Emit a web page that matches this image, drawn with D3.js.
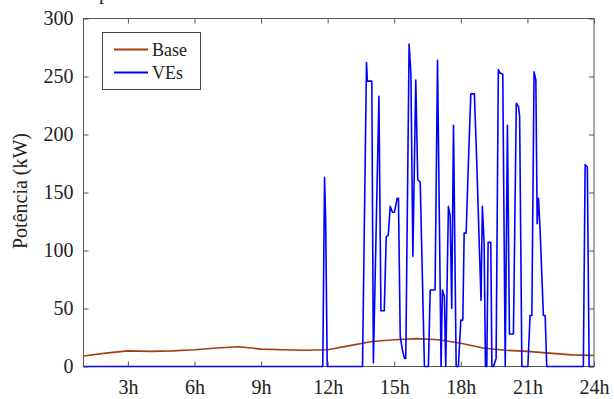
<!DOCTYPE html>
<html><head><meta charset="utf-8">
<script src="https://cdn.jsdelivr.net/npm/d3@7"></script>
<style>body{margin:0;background:#fff}svg{display:block}</style>
</head><body>
<svg id="c" width="614" height="399"></svg>
<script>
const yTicks = [0, 50, 100, 150, 200, 250, 300];
const xTicks = [3, 6, 9, 12, 15, 18, 21, 24];
const xTickLabels = ["3h", "6h", "9h", "12h", "15h", "18h", "21h", "24h"];
const seriesNames = ["Base", "VEs"];
const baseHours = [1, 2, 3, 4, 5, 6, 7, 8, 9, 10, 11, 12, 13, 14, 15, 16, 17, 18, 19, 20, 21, 22, 23, 24];
const baseValues = [9, 11.5, 13.5, 13, 13.5, 14.5, 16, 17, 15, 14.5, 14, 14.5, 18, 21.5, 23, 24, 23, 20, 16, 14, 13, 11.5, 10, 9.5];
const veHours = [1, 11.78, 11.86, 11.91, 11.98, 13.57, 13.75, 13.79, 13.99, 14.06, 14.31, 14.40, 14.55, 14.64, 14.73, 14.82, 14.92, 15.01, 15.13, 15.19, 15.27, 15.37, 15.46, 15.52, 15.67, 15.75, 15.84, 15.97, 16.06, 16.17, 16.36, 16.54, 16.62, 16.84, 16.95, 17.11, 17.17, 17.26, 17.32, 17.44, 17.52, 17.59, 17.67, 17.79, 17.89, 18.0, 18.09, 18.15, 18.24, 18.34, 18.45, 18.61, 18.72, 18.82, 18.91, 18.97, 19.05, 19.11, 19.17, 19.23, 19.35, 19.40, 19.47, 19.59, 19.69, 19.77, 19.89, 20.0, 20.10, 20.19, 20.37, 20.50, 20.60, 20.65, 20.75, 21.02, 21.12, 21.20, 21.30, 21.38, 21.44, 21.50, 21.57, 21.72, 21.80, 21.87, 23.52, 23.60, 23.70, 23.78, 24];
const veValues = [0, 0, 163, 126, 0, 0, 262, 246, 246, 3, 233, 48, 48, 112, 113, 138, 133, 133, 145, 145, 26, 14, 7, 7, 278, 253, 95, 247, 161, 159, 0, 0, 66, 66, 264, 0, 66, 60, 0, 138, 130, 50, 208, 0, 0, 40, 40, 115, 115, 175, 235, 235, 175, 112, 57, 138, 106, 0, 0, 107, 107, 0, 0, 7, 256, 253, 252, 0, 208, 28, 28, 227, 224, 215, 0, 0, 44, 44, 254, 247, 123, 145, 118, 44, 44, 0, 0, 174, 172, 0, 0];

const svg = d3.select("#c");
const L = 83.5, R = 594, T = 18.5, B = 366.5;
const x = d3.scaleLinear().domain([1, 24]).range([L, R]);
const y = d3.scaleLinear().domain([0, 300]).range([B, T]);
const font = "'Liberation Serif', 'Times New Roman', serif";
const axisCol = "#555";

// cropped caption fragment at top (only the descender shows, as in the reference)
svg.append("text").attr("x", 99).attr("y", -1).attr("font-family", font).attr("font-size", 20).attr("fill", "#222").text("p");

svg.append("rect").attr("x", L).attr("y", T).attr("width", R - L).attr("height", B - T)
  .attr("fill", "none").attr("stroke", axisCol).attr("stroke-width", 1);

const g = svg.append("g");
const base = baseHours.map((h, i) => [h, baseValues[i]]);
const ve = veHours.map((h, i) => [h, veValues[i]]);
const line = d3.line().x(d => x(d[0])).y(d => y(d[1]));
g.append("path").attr("d", line(base)).attr("fill", "none").attr("stroke", "#a33d14").attr("stroke-width", 1.6).attr("stroke-linejoin", "round");
g.append("path").attr("d", line(ve)).attr("fill", "none").attr("stroke", "#0000ff").attr("stroke-width", 1.6).attr("stroke-linejoin", "round");

// axes
const xb = d3.axisBottom(x).tickValues(xTicks).tickSize(-5).tickFormat((d, i) => xTickLabels[i]).tickPadding(13);
const gx = svg.append("g").attr("transform", `translate(0,${B})`).call(xb);
const xt = d3.axisTop(x).tickValues(xTicks).tickSize(-5).tickFormat("");
const gxt = svg.append("g").attr("transform", `translate(0,${T})`).call(xt);
const yl = d3.axisLeft(y).tickValues(yTicks).tickSize(-5).tickPadding(10);
const gy = svg.append("g").attr("transform", `translate(${L},0)`).call(yl);
const yr = d3.axisRight(y).tickValues(yTicks).tickSize(-5).tickFormat("");
const gyr = svg.append("g").attr("transform", `translate(${R},0)`).call(yr);
[gx, gxt, gy, gyr].forEach(a => {
  a.select(".domain").remove();
  a.selectAll("line").attr("stroke", axisCol);
  a.selectAll("text").attr("font-family", font).attr("font-size", 20).attr("fill", "#222");
});
gx.selectAll("text").attr("dy", "0.71em");

svg.append("text").attr("transform", "translate(27,191) rotate(-90)").attr("text-anchor", "middle")
  .attr("font-family", font).attr("font-size", 20).attr("fill", "#222").text("Potência (kW)");

// legend
const lg = svg.append("g");
lg.append("rect").attr("x", 102.5).attr("y", 32.5).attr("width", 98).attr("height", 57).attr("fill", "#fff").attr("stroke", "#444").attr("stroke-width", 1);
const colors = ["#a33d14", "#0000ff"];
seriesNames.forEach((n, i) => {
  const yy = 49.5 + i * 23;
  lg.append("line").attr("x1", 114).attr("x2", 148).attr("y1", yy).attr("y2", yy).attr("stroke", colors[i]).attr("stroke-width", 1.8);
  lg.append("text").attr("x", 152).attr("y", yy + 6).attr("font-family", font).attr("font-size", 18).attr("fill", "#222").text(n);
});
</script>
</body></html>
